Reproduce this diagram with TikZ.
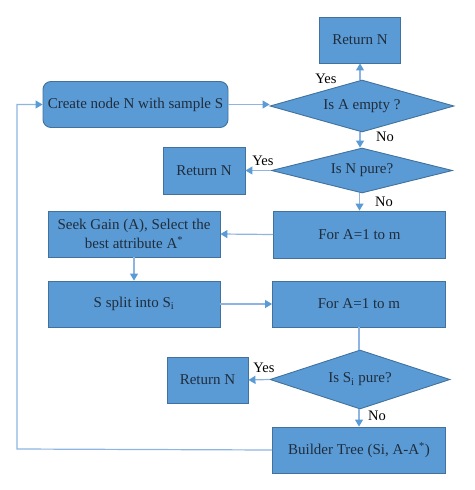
\documentclass[tikz,border=0pt]{standalone}
\usepackage{fontspec}
\setmainfont{Liberation Serif}
\usetikzlibrary{shapes.geometric,arrows.meta}
\definecolor{boxfill}{HTML}{5B9BD5}
\definecolor{boxline}{HTML}{41719C}
\definecolor{conn}{HTML}{8DB4E2}
\definecolor{tip}{HTML}{5B9BD5}
\definecolor{txt}{HTML}{1F2D3D}
\begin{document}
\begin{tikzpicture}[x=1pt,y=-1pt,
  every node/.style={font=\fontsize{15}{18.5}\selectfont, text=txt},
  blk/.style={rectangle, draw=boxline, fill=boxfill, line width=0.9pt, inner sep=0pt, minimum width=172pt, minimum height=46pt, align=center},
  rblk/.style={blk, rounded corners=8pt},
  retbox/.style={blk, minimum width=81pt, minimum height=46pt},
  dia/.style={diamond, draw=boxline, fill=boxfill, line width=0.9pt, inner sep=0pt, shape aspect=3.5, align=center},
  arr/.style={draw=conn, line width=1.2pt, -{Triangle[length=7pt,width=8pt,fill=tip,color=tip]}},
  ln/.style={draw=conn, line width=1.2pt},
  lbl/.style={font=\fontsize{14.5}{16}\selectfont, text=black, inner sep=0pt}
]
\useasboundingbox (0,0) rectangle (474,490);
\node[rblk, minimum width=185pt] (create) at (135.5,104.5) {Create node N with sample S};
\node[retbox] (ret1) at (360,40) {Return N};
\node[dia, minimum width=184pt, minimum height=52pt] (d1) at (362,106) {Is A empty ?};
\node[dia, minimum width=181pt, minimum height=45pt] (d2) at (362,170.5) {Is N pure?};
\node[retbox, minimum width=82pt, minimum height=47pt] (ret2) at (204,170.5) {Return N};
\node[blk, minimum height=47pt] (for1) at (359.5,234.5) {For A=1 to m};
\node[blk] (seek) at (134,234) {Seek Gain (A), Select the\\best attribute A\textsuperscript{*}};
\node[blk] (split) at (134,304) {S split into S\textsubscript{i}};
\node[blk, minimum width=173pt] (for2) at (359,304) {For A=1 to m};
\node[dia, minimum width=180pt, minimum height=59pt] (d3) at (360,379.5) {Is S\textsubscript{i} pure?};
\node[retbox] (ret3) at (207.5,380) {Return N};
\node[blk, minimum width=173pt] (build) at (359,450) {Builder Tree (Si, A-A\textsuperscript{*})};
\coordinate (loop) at (17,449);

\draw[arr] (create.east) -- (create.east -| d1.west);
\draw[arr] (d1.north -| ret1.south) -- (ret1.south);
\draw[arr] (d1.south -| ret1.south) -- (d2.north -| ret1.south);
\draw[arr] (d2.west) -- (ret2.east);
\draw[arr] (d2.south -| for1.north) -- (for1.north);
\draw[arr] (for1.west) -- (seek.east);
\draw[arr] (seek.south) -- (split.north);
\draw[arr] (split.east) -- (for2.west);
\draw[ln] (for2.south) -- (d3.north -| for2.south);
\draw[arr] (d3.west) -- (ret3.east);
\draw[arr] (d3.south -| build.north) -- (build.north);
\draw[arr] (build.west) -- (loop) |- (create.west);

\node[lbl] (y1) at (326,79) {Yes};
\node[lbl] (n1) at (385,137) {No};
\node[lbl] (y2) at (263,161) {Yes};
\node[lbl] (n2) at (384,202) {No};
\node[lbl] (y3) at (264,368) {Yes};
\node[lbl] (n3) at (377,416) {No};
\end{tikzpicture}
\end{document}
